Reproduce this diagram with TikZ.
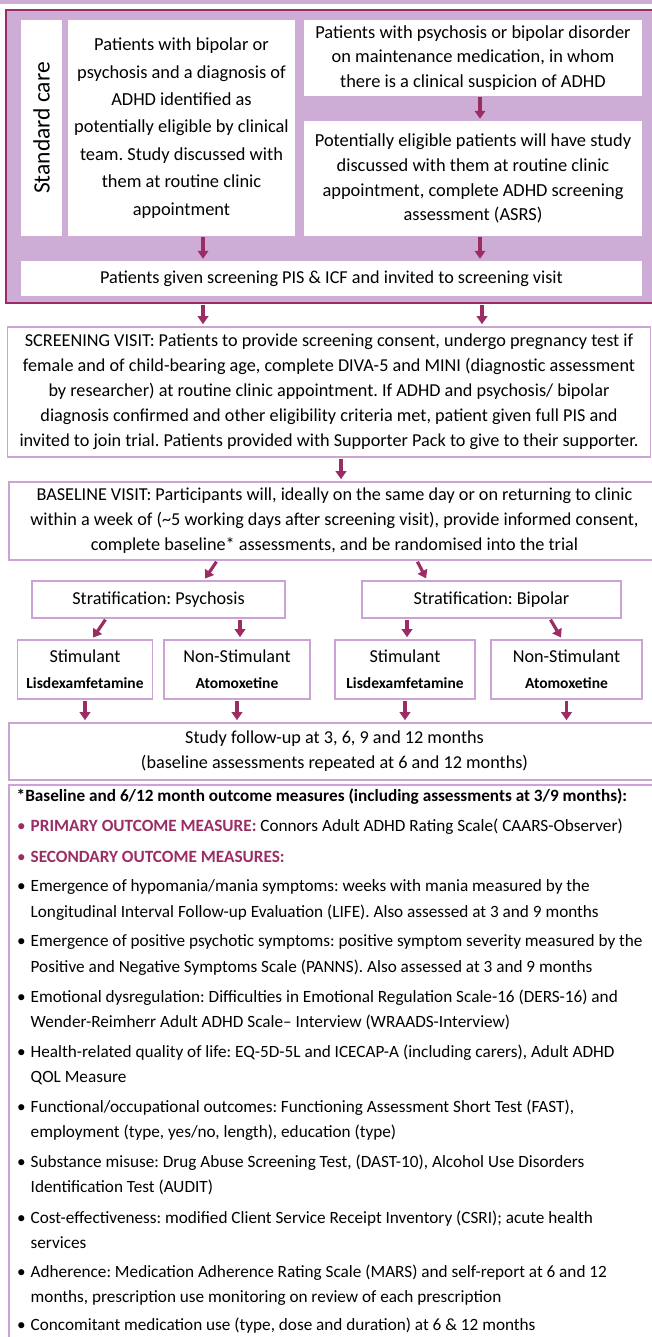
\documentclass[tikz,border=0pt]{standalone}
\usepackage{fontspec}
\setmainfont{Carlito}
\usetikzlibrary{arrows.meta,positioning}
\frenchspacing

\definecolor{plum}{RGB}{155,45,100}
\definecolor{lilac}{RGB}{205,173,214}
\definecolor{lilacline}{RGB}{203,163,213}

\newcommand\txt{\fontsize{18.2}{25}\selectfont}
\newcommand\measuretxt{\fontsize{17.2}{25.5}\selectfont}
\newcommand\drugtxt{\bfseries\fontsize{15.5}{26}\selectfont}
\newcommand\itm{\makebox[13.5pt][l]{\textbullet}}
\newcommand\hang{\hspace*{13.5pt}}

\tikzset{
    careframe/.style={draw=plum, line width=2pt, fill=lilac, inner sep=0pt},
    carebox/.style={fill=white, inner sep=0pt, align=center, font=\txt},
    flowbox/.style={draw=lilacline, line width=1.6pt, fill=white, inner sep=0pt, align=center, font=\txt},
    arr/.style={draw=plum, line width=3.2pt, -{Triangle[length=8pt,width=10.5pt]}, shorten >=2pt, shorten <=1pt},
    measure/.style={anchor=west, align=left, inner sep=0pt, font=\measuretxt}
}

\begin{document}
\begin{tikzpicture}[x=1pt, y=-1pt]
    \useasboundingbox (0,0) rectangle (652,1337);
    \clip (0,0) rectangle (652,1337);

    % standard care part
    \fill[lilac] (0,0) rectangle (652,4);
    \node[careframe, minimum width=660pt, minimum height=293pt] (care) at (336,156.5) {};
    \node[carebox, rotate=90, minimum width=216pt, minimum height=41pt, font=\fontsize{23.5}{28}\selectfont] (std) at (41.5,128) {Standard care};
    \node[carebox, minimum width=227pt, minimum height=216pt, font=\fontsize{18.4}{27.4}\selectfont] (known) at (181.5,128)
        {Patients with bipolar or\\psychosis and a diagnosis of\\ADHD identified as\\potentially eligible by clinical\\team. Study discussed with\\them at routine clinic\\appointment};
    \node[carebox, minimum width=338pt, minimum height=76pt, font=\fontsize{18.4}{24.6}\selectfont] (suspect) at (473,58)
        {Patients with psychosis or bipolar disorder\\on maintenance medication, in whom\\there is a clinical suspicion of ADHD};
    \node[carebox, minimum width=338pt, minimum height=115pt, font=\fontsize{18.4}{24.8}\selectfont] (asrs) at (473,178.5)
        {Potentially eligible patients will have study\\discussed with them at routine clinic\\appointment, complete ADHD screening\\assessment (ASRS)};
    \node[carebox, minimum width=621pt, minimum height=35pt] (pis) at (331.5,278.5)
        {Patients given screening PIS \& ICF and invited to screening visit};
    \draw[arr] (suspect.south -| 480,0) -- (asrs.north -| 480,0);
    \draw[arr] (known.south -| 203,0) -- (pis.north -| 203,0);
    \draw[arr] (asrs.south -| 480,0) -- (pis.north -| 480,0);

    % visits
    \node[flowbox, minimum width=643pt, minimum height=130pt] (screen) at (329,392)
        {SCREENING VISIT: Patients to provide screening consent, undergo pregnancy test if\\
         female and of child-bearing age, complete DIVA-5 and MINI (diagnostic assessment\\
         by researcher) at routine clinic appointment. If ADHD and psychosis/ bipolar\\
         diagnosis confirmed and other eligibility criteria met, patient given full PIS and\\
         invited to join trial. Patients provided with Supporter Pack to give to their supporter.};
    \draw[arr] (care.south -| 203,0) -- (screen.north -| 203,0);
    \draw[arr] (care.south -| 482,0) -- (screen.north -| 482,0);
    \node[flowbox, minimum width=651pt, minimum height=78pt] (base) at (334.5,521)
        {BASELINE VISIT: Participants will, ideally on the same day or on returning to clinic\\
         within a week of (\textasciitilde5 working days after screening visit), provide informed consent,\\
         complete baseline* assessments, and be randomised into the trial};
    \draw[arr] (screen.south -| 341,0) -- (base.north -| 341,0);

    % stratification and arms
    \node[flowbox, minimum width=253pt, minimum height=37pt] (psych) at (158.5,599.5) {Stratification: Psychosis};
    \node[flowbox, minimum width=259pt, minimum height=37pt] (bip) at (491.5,599.5) {Stratification: Bipolar};
    \draw[arr] (base.south -| 217,0) -- (psych.north -| 204,0);
    \draw[arr] (base.south -| 417,0) -- (bip.north -| 427,0);

    \node[flowbox, minimum width=135pt, minimum height=59pt, font=\fontsize{18.2}{26}\selectfont] (stima) at (85,669.5) {Stimulant\\{\drugtxt Lisdexamfetamine}};
    \node[flowbox, minimum width=146pt, minimum height=59pt, font=\fontsize{18.2}{26}\selectfont] (nonstima) at (237,669.5) {Non-Stimulant\\{\drugtxt Atomoxetine}};
    \node[flowbox, minimum width=140pt, minimum height=59pt, font=\fontsize{18.2}{26}\selectfont] (stimb) at (405,669.5) {Stimulant\\{\drugtxt Lisdexamfetamine}};
    \node[flowbox, minimum width=151pt, minimum height=59pt, font=\fontsize{18.2}{26}\selectfont] (nonstimb) at (566.5,669.5) {Non-Stimulant\\{\drugtxt Atomoxetine}};
    \draw[arr] (psych.south -| 106,0) -- (stima.north -| 92,0);
    \draw[arr] (psych.south -| 240,0) -- (nonstima.north -| 240,0);
    \draw[arr] (bip.south -| 407,0) -- (stimb.north -| 407,0);
    \draw[arr] (bip.south -| 550,0) -- (nonstimb.north -| 562,0);

    \node[flowbox, minimum width=651pt, minimum height=57pt] (follow) at (334.5,751.5)
        {Study follow-up at 3, 6, 9 and 12 months\\(baseline assessments repeated at 6 and 12 months)};
    \draw[arr] (stima) -- (stima |- follow.north);
    \draw[arr] (nonstima) -- (nonstima |- follow.north);
    \draw[arr] (stimb) -- (stimb |- follow.north);
    \draw[arr] (nonstimb) -- (nonstimb |- follow.north);

    % outcome measures
    \node[flowbox, minimum width=651pt, minimum height=570pt] (measures) at (334.5,1070) {};
    \node[measure, font=\measuretxt\bfseries] (head) at (16.5,797)
        {*Baseline and 6/12 month outcome measures (including assessments at 3/9 months):};
    \node[measure] (primary) at (17,827)
        {{\color{plum}\itm\bfseries PRIMARY OUTCOME MEASURE:} Connors Adult ADHD Rating Scale( CAARS-Observer)};
    \node[measure] (secondary) at (17,857) {{\color{plum}\itm\bfseries SECONDARY OUTCOME MEASURES:}};
    \node[measure] (mania) at (17,900)
        {\itm Emergence of hypomania/mania symptoms: weeks with mania measured by the\\
         \hang Longitudinal Interval Follow-up Evaluation (LIFE). Also assessed at 3 and 9 months};
    \node[measure] (psychotic) at (17,955)
        {\itm Emergence of positive psychotic symptoms: positive symptom severity measured by the\\
         \hang Positive and Negative Symptoms Scale (PANNS). Also assessed at 3 and 9 months};
    \node[measure] (emotion) at (17,1010)
        {\itm Emotional dysregulation: Difficulties in Emotional Regulation Scale-16 (DERS-16) and\\
         \hang Wender-Reimherr Adult ADHD Scale– Interview (WRAADS-Interview)};
    \node[measure] (quality) at (17,1065)
        {\itm Health-related quality of life: EQ-5D-5L and ICECAP-A (including carers), Adult ADHD\\
         \hang QOL Measure};
    \node[measure] (function) at (17,1120)
        {\itm Functional/occupational outcomes: Functioning Assessment Short Test (FAST),\\
         \hang employment (type, yes/no, length), education (type)};
    \node[measure] (substance) at (17,1175)
        {\itm Substance misuse: Drug Abuse Screening Test, (DAST-10), Alcohol Use Disorders\\
         \hang Identification Test (AUDIT)};
    \node[measure] (cost) at (17,1230)
        {\itm Cost-effectiveness: modified Client Service Receipt Inventory (CSRI); acute health\\
         \hang services};
    \node[measure] (adherence) at (17,1285)
        {\itm Adherence: Medication Adherence Rating Scale (MARS) and self-report at 6 and 12\\
         \hang months, prescription use monitoring on review of each prescription};
    \node[measure] (concomitant) at (17,1326)
        {\itm Concomitant medication use (type, dose and duration) at 6 \& 12 months};
\end{tikzpicture}
\end{document}
